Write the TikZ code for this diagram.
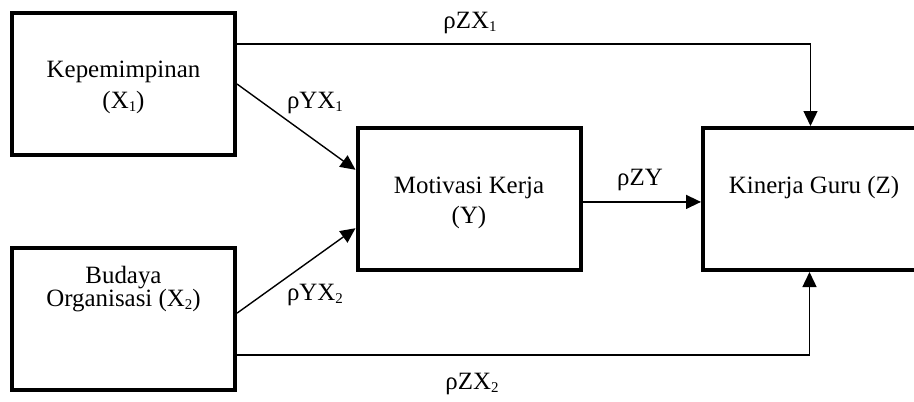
\documentclass[tikz,border=0pt]{standalone}
\usepackage{fontspec}
\setmainfont{Liberation Serif}
\usetikzlibrary{arrows.meta,calc}
\newcommand\lowsub[1]{\raisebox{-0.3ex}{\fontsize{15}{15}\selectfont #1}}
\begin{document}
\begin{tikzpicture}[x=1bp,y=-1bp,
  box/.style={draw,line width=4bp,minimum width=223bp,minimum height=142bp,inner sep=0pt},
  txt/.style={anchor=base,font=\fontsize{25}{28}\selectfont,inner sep=0pt},
  conn/.style={line width=1.4bp,-{Triangle[length=15bp,width=14bp]}},
  plain/.style={line width=1.4bp}]
\useasboundingbox (0,0) rectangle (914,401);
\clip (0,0) rectangle (914,401);
\node[box] (x1) at (123.5,84) {};
\node[box] (x2) at (123.5,319) {};
\node[box] (yb) at (469,199) {};
\node[box] (zb) at (814.5,199) {};
% texts
\node[txt] (t1a) at (123.5,77) {Kepemimpinan};
\node[txt] (t1b) at (123.5,108) {(X\lowsub{1})};
\node[txt] (t2a) at (123.5,283) {Budaya};
\node[txt] (t2b) at (123.5,306) {Organisasi (X\lowsub{2})};
\node[txt] (tya) at (469,193) {Motivasi Kerja};
\node[txt] (tyb) at (469,223) {(Y)};
\node[txt] (tz) at (814,193) {Kinerja Guru (Z)};
% connectors
\coordinate (a1) at ($(x1.north east)!0.225!(x1.south east)$);
\coordinate (a2) at ($(x2.north east)!0.746!(x2.south east)$);
\coordinate (zt) at ([xshift=-4bp]zb.north);
\coordinate (zbt) at ([xshift=-5bp]zb.south);
\draw[conn] (a1) -| (zt);
\draw[conn] (a2) -| (zbt);
\draw[conn] (x1.east) -- ($(yb.north west)!0.3!(yb.south west)$);
\draw[conn] ($(x2.north east)!0.46!(x2.south east)$) -- ($(yb.north west)!0.7!(yb.south west)$);
\coordinate (ye) at ($(yb.north east)!0.52!(yb.south east)$);
\draw[conn] (ye) -- (ye -| zb.west);
% labels
\node[txt] (lzx1) at (470,28) {ρZX\lowsub{1}};
\node[txt] (lzx2) at (472,389) {ρZX\lowsub{2}};
\node[txt] (lyx1) at (315,108) {ρYX\lowsub{1}};
\node[txt] (lyx2) at (315,300) {ρYX\lowsub{2}};
\node[txt] (lzy) at (640,185) {ρZY};
\end{tikzpicture}
\end{document}
